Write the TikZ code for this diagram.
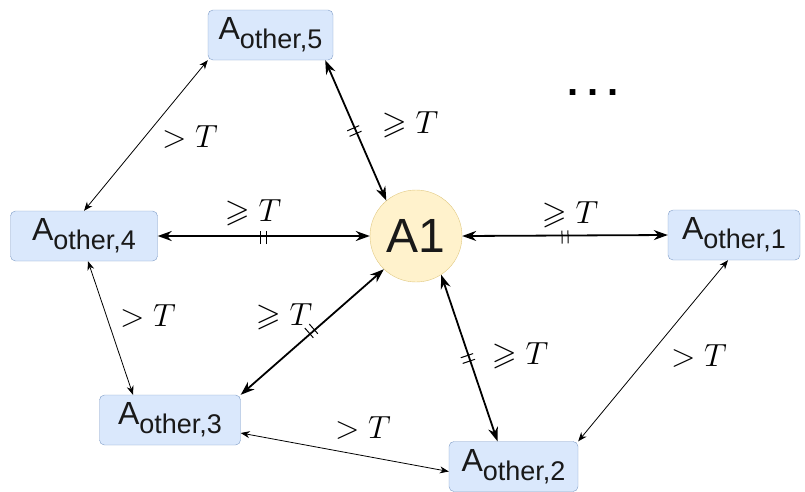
\RequirePackage{fix-cm}
\documentclass[tikz,border=0pt]{standalone}
\usepackage{amssymb}
\usepackage{fontspec}
\newfontfamily\diagfont{Liberation Sans}
\usetikzlibrary{arrows.meta,decorations.markings}
\newcommand{\aoth}[1]{A\raisebox{-9pt}{\fontsize{27}{27}\selectfont other,#1}}
\begin{document}
\begin{tikzpicture}[x=1pt,y=-1pt,line join=round,
  other/.style={draw=boxline,fill=boxfill,rounded corners=5pt,minimum height=50pt,inner sep=0pt,text=black!90,font=\diagfont\fontsize{32}{32}\selectfont},
  hub/.style={circle,draw=hubline,fill=hubfill,minimum size=92pt,inner sep=0pt,text=black!90,font=\diagfont\fontsize{48}{48}\selectfont},
  lab/.style={inner sep=0pt,font=\fontsize{32}{34}\selectfont},
  strong/.style={line width=1.8pt,{Stealth[length=14pt,width=10pt]}-{Stealth[length=14pt,width=10pt]}},
  weak/.style={line width=0.8pt,{Stealth[length=9pt,width=7pt]}-{Stealth[length=9pt,width=7pt]}},
  ticks/.style={postaction={decorate,decoration={markings,mark=at position 0.5 with {\draw[-,line width=1pt] (-3pt,-8pt) -- (-3pt,5pt) (3pt,-8pt) -- (3pt,5pt);}}}}]
\definecolor{boxfill}{HTML}{DAE8FC}
\definecolor{boxline}{HTML}{7F9CC6}
\definecolor{hubfill}{HTML}{FFF2CC}
\definecolor{hubline}{HTML}{E0C880}
\useasboundingbox (0,0) rectangle (805,491);
% agents
\node[other,minimum width=125pt] (o5) at (270.5,35) {\aoth{5}};
\node[other,minimum width=147pt] (o4) at (84,236) {\aoth{4}};
\node[hub] (a1) at (416,236) {A1};
\node[other,minimum width=132pt] (o1) at (734,235) {\aoth{1}};
\node[other,minimum width=141pt] (o3) at (170,420) {\aoth{3}};
\node[other,minimum width=129pt] (o2) at (513.5,466.5) {\aoth{2}};
\node[inner sep=0pt,font=\diagfont\bfseries\fontsize{40}{40}\selectfont] (dots) at (593,93) {.\kern9pt.\kern9pt.};
% links to A1
\draw[strong,ticks] ([xshift=-8pt]o5.south east) -- (a1.130);
\draw[strong,ticks] (o4.east) -- (a1.west);
\draw[strong,ticks] (a1.east) -- (o1.west);
\draw[strong,ticks] (a1.226) -- (o3.north east);
\draw[strong,ticks] (a1.-57) -- ([xshift=-16pt]o2.north);
% links between the others
\draw[weak] (o5.south west) -- (o4.north);
\draw[weak] ([xshift=4pt]o4.south) -- ([xshift=-37pt]o3.north);
\draw[weak] ([yshift=-13pt]o3.east) -- ([yshift=-5pt]o2.west);
\draw[weak] ([xshift=-6pt]o1.south) -- (o2.north east);
% thresholds
\node[lab] (t54) at (190,137) {$>T$};
\node[lab] (t5) at (410,125) {$\geqslant T$};
\node[lab] (t4) at (253,213) {$\geqslant T$};
\node[lab] (t1) at (570,215) {$\geqslant T$};
\node[lab] (t43) at (148,316) {$>T$};
\node[lab] (t3) at (284,317) {$\geqslant T$};
\node[lab] (t2) at (520,356) {$\geqslant T$};
\node[lab] (t12) at (699,356) {$>T$};
\node[lab] (t32) at (363,428) {$>T$};
\end{tikzpicture}
\end{document}
